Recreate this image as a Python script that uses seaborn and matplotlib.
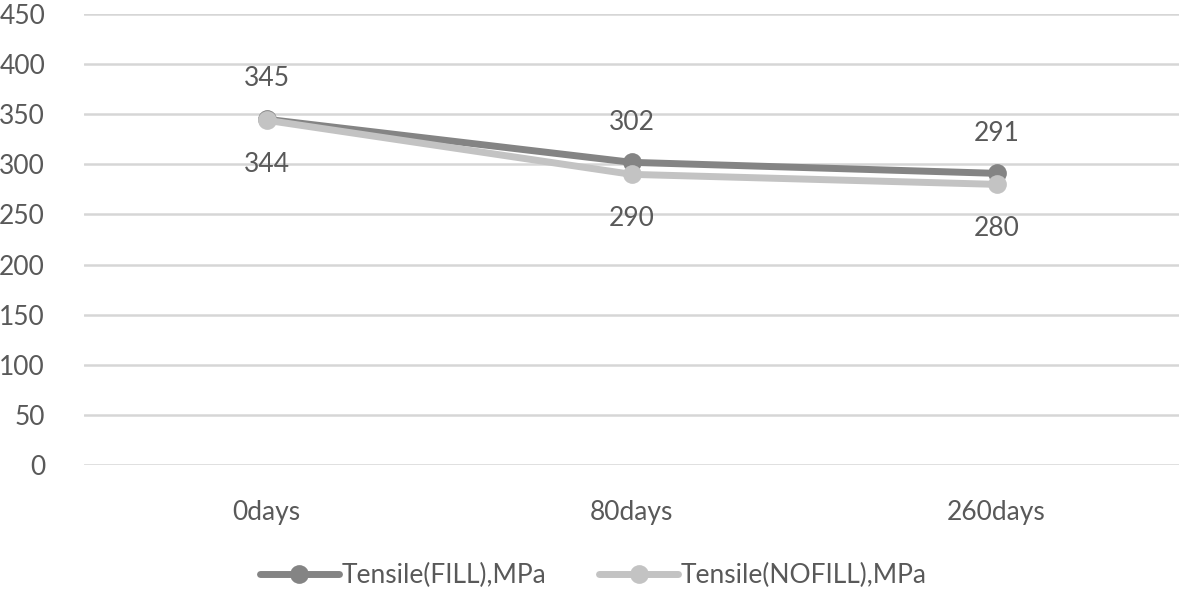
import matplotlib
matplotlib.use("Agg")
import matplotlib.pyplot as plt
import seaborn as sns
import numpy as np
import pandas as pd

# Data
days = ["0days", "80days", "260days"]
fill_vals = [345, 302, 291]
nofill_vals = [344, 290, 280]
series_names = ["Tensile(FILL),MPa", "Tensile(NOFILL),MPa"]

df = pd.DataFrame({
    "day": days * 2,
    "value": fill_vals + nofill_vals,
    "series": [series_names[0]] * 3 + [series_names[1]] * 3,
})

sns.set_theme(style="white")
plt.rcParams["font.family"] = ["Lato", "DejaVu Sans"]

text_color = "#595959"
colors = {series_names[0]: "#848484", series_names[1]: "#c3c3c3"}

fig = plt.figure(figsize=(11.81, 5.93), dpi=100)
ax = fig.add_axes([84 / 1181, 128 / 593, 1095 / 1181, 451 / 593])

x_pos = np.arange(len(days))
for name in series_names:
    sub = df[df["series"] == name]
    sns.lineplot(x=x_pos, y=sub["value"].values, ax=ax, color=colors[name],
                 linewidth=5, marker="o", markersize=13.5, markeredgewidth=0,
                 label=name, sort=False)

# data labels: FILL above, NOFILL below
for i, v in enumerate(fill_vals):
    ax.annotate(str(v), (x_pos[i], v), xytext=(0, 29), textcoords="offset points",
                ha="center", va="center", fontsize=19, color=text_color)
for i, v in enumerate(nofill_vals):
    ax.annotate(str(v), (x_pos[i], v), xytext=(0, -32), textcoords="offset points",
                ha="center", va="center", fontsize=19, color=text_color)

ax.set_xlim(-0.5, 2.5)
ax.set_ylim(0, 450)
ax.set_yticks(np.arange(0, 451, 50))
ax.set_xticks(x_pos)
ax.set_xticklabels(days)
ax.grid(axis="y", color="#d6d6d6", linewidth=1.8)
ax.set_axisbelow(True)
for s in ax.spines.values():
    s.set_visible(False)
ax.tick_params(axis="both", length=0, labelsize=19, colors=text_color)
ax.tick_params(axis="x", pad=25)
ax.tick_params(axis="y", pad=28)
ax.set_xlabel("")
ax.set_ylabel("")

ax.legend(loc="center", bbox_to_anchor=(0.465, -0.245),
          ncol=2, frameon=False, fontsize=19, labelcolor=text_color,
          handlelength=3.0, handletextpad=0.1, columnspacing=2.0)

fig.savefig("out.png", dpi=100)
